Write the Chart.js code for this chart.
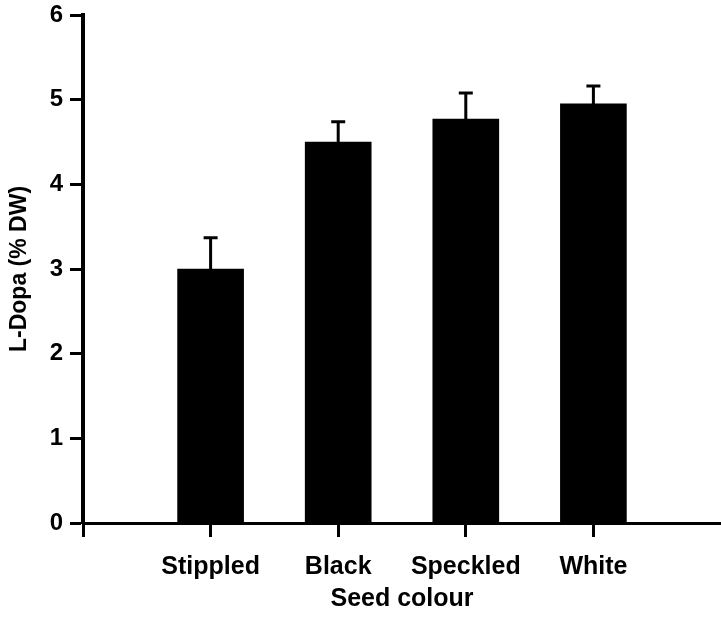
<!DOCTYPE html>
<html>
<head>
<meta charset="utf-8">
<script src="https://cdn.jsdelivr.net/npm/chart.js@4/dist/chart.umd.min.js"></script>
<style>
  html, body { margin: 0; padding: 0; background: #fff; }
  #wrap { width: 721px; height: 617px; }
</style>
</head>
<body>
<div id="wrap"><canvas id="barChart" width="721" height="617"></canvas></div>
<script>
var categories = ['Stippled', 'Black', 'Speckled', 'White'];
var meanValues = [3.0, 4.5, 4.77, 4.95];
var errorValues = [0.37, 0.24, 0.31, 0.21];
var yTicks = [0, 1, 2, 3, 4, 5, 6];

// empty slot on each side so the bars sit like the original
var labels = [''].concat(categories).concat(['']);
var barData = [null].concat(meanValues).concat([null]);
var errData = [null].concat(errorValues).concat([null]);

var fontFamily = '"Liberation Sans", Arial, Helvetica, sans-serif';

var errorBars = {
    id: 'errorBars',
    afterDatasetsDraw: function (chart) {
        var ctx = chart.ctx;
        var meta = chart.getDatasetMeta(0);
        var yScale = chart.scales.y;
        ctx.save();
        ctx.strokeStyle = '#000';
        ctx.lineWidth = 3;
        for (var i = 0; i < barData.length; i++) {
            if (barData[i] == null) continue;
            var x = meta.data[i].x;
            var yBar = yScale.getPixelForValue(barData[i]);
            var yTop = yScale.getPixelForValue(barData[i] + errData[i]);
            ctx.beginPath();
            ctx.moveTo(x, yBar);
            ctx.lineTo(x, yTop);
            ctx.moveTo(x - 7, yTop);
            ctx.lineTo(x + 7, yTop);
            ctx.stroke();
        }
        ctx.restore();
    }
};

var barChartCanvas = document.getElementById('barChart').getContext('2d');

var barChart = new Chart(barChartCanvas, {
    type: 'bar',
    data: {
        labels: labels,
        datasets: [{
            data: barData,
            backgroundColor: '#000',
            borderWidth: 0,
            barThickness: 66
        }]
    },
    options: {
        responsive: false,
        animation: false,
        layout: { padding: { top: 15, right: 0, left: 0, bottom: 0 } },
        plugins: {
            legend: { display: false },
            tooltip: { enabled: false }
        },
        scales: {
            x: {
                offset: false,
                afterFit: function (scale) {
                    scale.height = 94;
                    scale.paddingLeft = 0;
                    scale.paddingRight = 0;
                },
                grid: {
                    offset: false,
                    drawOnChartArea: false,
                    drawTicks: true,
                    tickLength: 14,
                    tickWidth: 3,
                    tickColor: function (c) { return c.index === labels.length - 1 ? 'rgba(0,0,0,0)' : '#000'; }
                },
                border: { display: true, color: '#000', width: 3 },
                ticks: {
                    color: '#000',
                    padding: 15,
                    maxRotation: 0,
                    autoSkip: false,
                    font: { family: fontFamily, size: 25, weight: 'bold' }
                },
                title: {
                    display: true,
                    text: 'Seed colour',
                    color: '#000',
                    padding: { top: 0, bottom: 3 },
                    font: { family: fontFamily, size: 25, weight: 'bold' }
                }
            },
            y: {
                min: yTicks[0],
                max: yTicks[yTicks.length - 1],
                afterFit: function (scale) {
                    scale.width = 83;
                    scale.paddingTop = 0;
                    scale.paddingBottom = 0;
                },
                afterBuildTicks: function (scale) {
                    scale.ticks = yTicks.map(function (v) { return { value: v }; });
                },
                grid: {
                    drawOnChartArea: false,
                    drawTicks: true,
                    tickLength: 13,
                    tickWidth: 3,
                    tickColor: '#000'
                },
                border: { display: true, color: '#000', width: 4 },
                ticks: {
                    color: '#000',
                    padding: 7,
                    font: { family: fontFamily, size: 24, weight: 'bold' }
                },
                title: {
                    display: true,
                    text: 'L-Dopa (% DW)',
                    color: '#000',
                    padding: { top: 6, bottom: 0 },
                    font: { family: fontFamily, size: 23, weight: 'bold' }
                }
            }
        }
    },
    plugins: [errorBars]
});
</script>
</body>
</html>
